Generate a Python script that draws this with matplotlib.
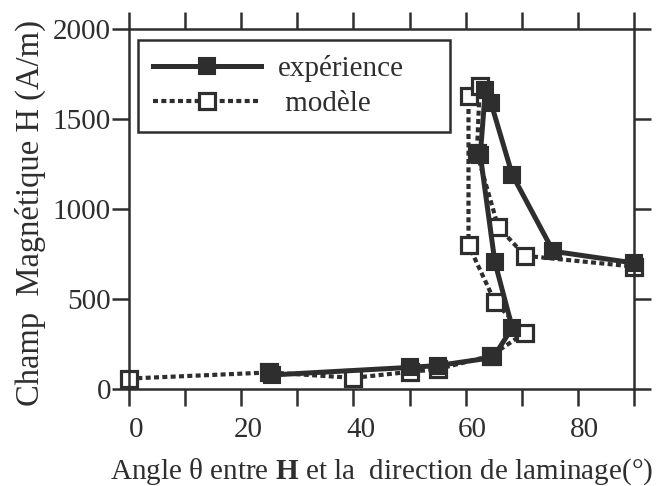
import matplotlib
matplotlib.use("Agg")
import matplotlib.pyplot as plt
from matplotlib.transforms import ScaledTranslation

# field amplitude vs angle to the rolling direction
exp_angle = [25.5, 50, 55, 64.9, 68.3, 65.2, 62.6, 63.5, 64.5, 68.3, 75.6, 90]
exp_field = [78, 120, 130, 175, 340, 705, 1300, 1660, 1590, 1190, 765, 700]

mod_angle = [0, 25, 40, 50, 55, 64.5, 70.5, 65.2, 60.5, 60.5, 62.5, 62, 65.8, 70.6, 90]
mod_field = [58, 92, 62, 95, 110, 185, 311, 485, 800, 1630, 1685, 1310, 900, 740, 680]

x_ticks = list(range(0, 91, 10))
x_labels = [str(t) if t % 20 == 0 else "" for t in x_ticks]
y_ticks = [0, 500, 1000, 1500, 2000]

ink = "#2e2e2e"
plt.rcParams["font.family"] = ["Liberation Serif", "DejaVu Serif"]
plt.rcParams["mathtext.fontset"] = "custom"
plt.rcParams["mathtext.rm"] = "Liberation Serif"
plt.rcParams["mathtext.bf"] = "Liberation Serif:bold"

fig = plt.figure(figsize=(6.61, 4.86), dpi=100)
ax = fig.add_axes([0.1952, 0.1996, 0.764, 0.7407])

ax.plot(mod_angle, mod_field, color=ink, lw=3, ls=(0, (1.2, 0.8)),
        marker="s", ms=12, mfc="white", mec=ink, mew=2.3,
        clip_on=False, zorder=2, label=" modèle")
ax.plot(exp_angle, exp_field, color=ink, lw=3.6, ls="-",
        marker="s", ms=12, mfc=ink, mec=ink, mew=1.5,
        clip_on=False, zorder=3, label="expérience")

ax.set_xlim(0, 90)
ax.set_ylim(0, 2000)
ax.set_xticks(x_ticks)
ax.set_xticklabels(x_labels)
ax.set_yticks(y_ticks)

for s in ax.spines.values():
    s.set_linewidth(1.8)
    s.set_color(ink)
ax.tick_params(direction="out", length=12, width=1.8, color=ink,
               labelsize=21, labelcolor=ink,
               top=True, right=True)
ax.tick_params(axis="x", pad=8)
ax.tick_params(axis="y", pad=1)

# the printed x labels sit a little to the right of their ticks
shift = ScaledTranslation(7 / 100, 0, fig.dpi_scale_trans)
for lbl in ax.get_xticklabels():
    lbl.set_transform(lbl.get_transform() + shift)

ax.set_xlabel("Angle θ entre $\\mathbf{H}$ et la  direction de laminage(°)",
              fontsize=21, color=ink, labelpad=10)
ax.set_ylabel("Champ  Magnétique H (A/m)", fontsize=23.5, color=ink)
ax.yaxis.set_label_coords(-0.165, 0.49)

handles, labels = ax.get_legend_handles_labels()
leg = ax.legend(handles[::-1], labels[::-1], loc="upper left",
                bbox_to_anchor=(0.018, 0.731, 0.618, 0.238), mode="expand",
                borderaxespad=0, fontsize=21, handlelength=3.7,
                handletextpad=0.6, labelspacing=0.3, borderpad=0.5,
                fancybox=False, framealpha=1)
leg.get_frame().set_edgecolor(ink)
leg.get_frame().set_linewidth(1.8)
for t in leg.get_texts():
    t.set_color(ink)

fig.savefig("out.png", dpi=100)
